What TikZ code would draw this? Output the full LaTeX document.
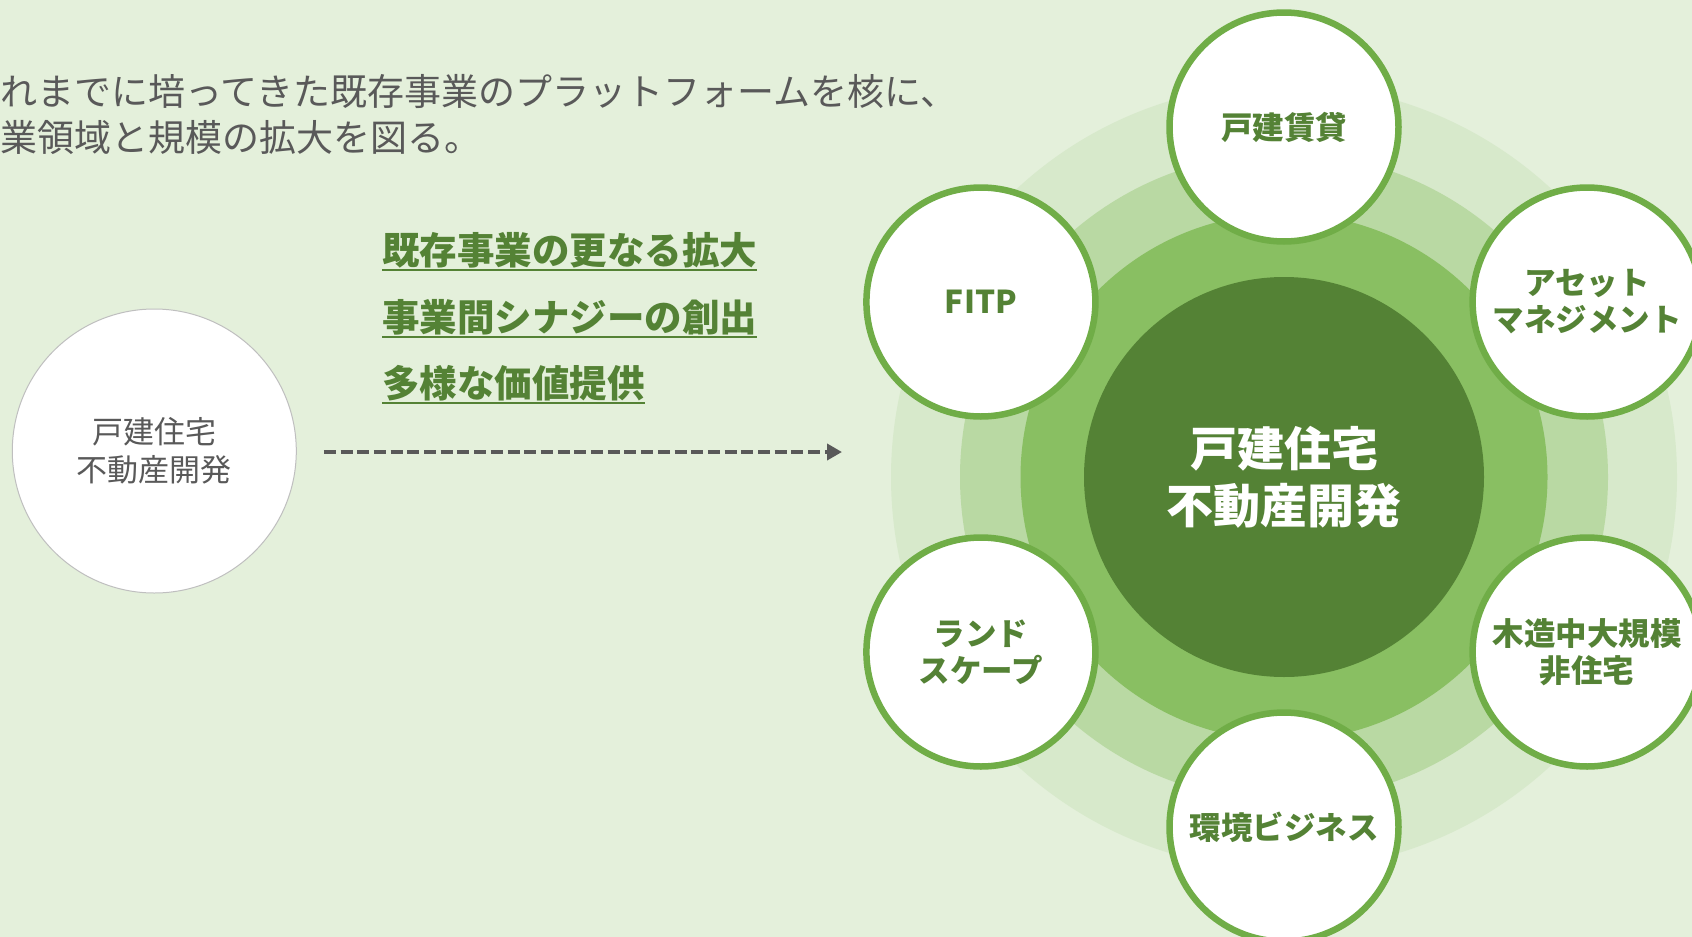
\documentclass[tikz,border=0pt]{standalone}
\usepackage{fontspec}
\setmainfont{Noto Sans CJK JP}
\usetikzlibrary{arrows.meta}
\definecolor{bg}{HTML}{E4F0DB}
\definecolor{ringA}{HTML}{D7E9CB}
\definecolor{ringB}{HTML}{B9D9A3}
\definecolor{ringC}{HTML}{89BF62}
\definecolor{corecol}{HTML}{548235}
\definecolor{accent}{HTML}{70AD47}
\definecolor{txtgreen}{HTML}{548235}
\definecolor{txtgray}{HTML}{595959}
\definecolor{arrowgray}{HTML}{595959}
\definecolor{rimgray}{HTML}{BFBFBF}
\begin{document}
\begin{tikzpicture}[x=1pt,y=-1pt,
  sat/.style={circle, draw=accent, line width=6.5pt, fill=white, minimum size=229pt, inner sep=0pt, align=center, text=txtgreen, font=\fontsize{31.5}{37}\selectfont\bfseries},
  ring/.style={circle, inner sep=0pt, draw=none},
  intro/.style={anchor=base west, inner sep=0pt, text=txtgray, font=\fontsize{37}{45}\selectfont},
  keyline/.style={anchor=base west, inner sep=0pt, text=txtgreen, font=\fontsize{37.5}{45}\selectfont\bfseries},
  uline/.style={draw=txtgreen, line width=2pt},
  dasharrow/.style={draw=arrowgray, line width=4pt, dash pattern=on 12pt off 4.7pt, -{Triangle[length=15pt,width=16pt]}}
]
\fill[bg] (0,0) rectangle (1692,937);
\useasboundingbox (0,0) rectangle (1692,937);

% intro text
\node[intro] (intro1) at (-37,105) {これまでに培ってきた既存事業のプラットフォームを核に、};
\node[intro] (intro2) at (-37,151) {事業領域と規模の拡大を図る。};

% key lines
\node[keyline] (k1) at (382,264) {既存事業の更なる拡大};
\node[keyline] (k2) at (382,331) {事業間シナジーの創出};
\node[keyline] (k3) at (382,397) {多様な価値提供};
\draw[uline] ([yshift=-6pt]k1.base west) -- ([yshift=-6pt]k1.base east);
\draw[uline] ([yshift=-6pt]k2.base west) -- ([yshift=-6pt]k2.base east);
\draw[uline] ([yshift=-6pt]k3.base west) -- ([yshift=-6pt]k3.base east);

% left circle
\node[circle, fill=white, draw=rimgray, line width=1pt, minimum size=284pt, inner sep=0pt, align=center, text=txtgray, font=\fontsize{31}{38}\selectfont] (lc) at (154.3,451) {戸建住宅\\不動産開発};

% arrow
\coordinate (ae) at (842,452);
\draw[dasharrow, shorten <=27pt] (lc.east |- ae) -- (ae);

% rings
\node[ring, fill=ringA, minimum size=786pt] (r1) at (1284,477) {};
\node[ring, fill=ringB, minimum size=648pt] (r2) at (1284,477) {};
\node[ring, fill=ringC, minimum size=527pt] (r3) at (1284,477) {};
\node[ring, fill=corecol, minimum size=400pt, text=white, align=center, font=\fontsize{47}{57}\selectfont\bfseries] (core) at (1284,477) {戸建住宅\\不動産開発};

% satellites
\node[sat] (s1) at (1284,127) {戸建賃貸};
\node[sat] (s2) at (1587.1,302) {アセット\\マネジメント};
\node[sat] (s3) at (1587.1,652) {木造中大規模\\非住宅};
\node[sat] (s4) at (1284,827) {環境ビジネス};
\node[sat] (s5) at (980.9,652) {ランド\\スケープ};
\node[sat] (s6) at (980.9,302) {FITP};
\end{tikzpicture}
\end{document}
